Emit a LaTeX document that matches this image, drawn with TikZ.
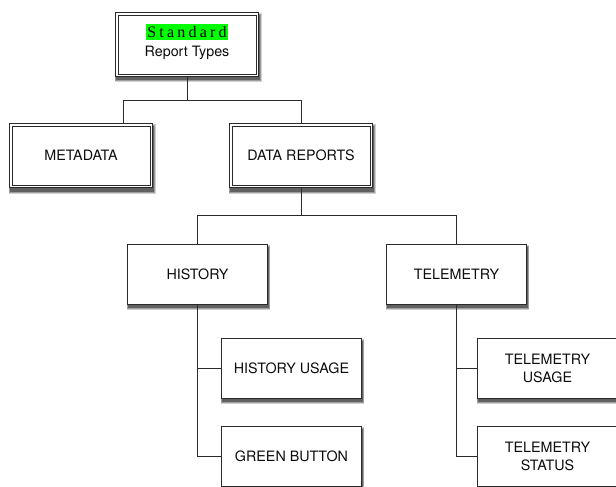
\documentclass[tikz,border=0pt]{standalone}
\usepackage{fontspec}
\setmainfont{TeX Gyre Heros}
\newfontfamily\spacedserif[LetterSpace=20]{Liberation Serif}
\usetikzlibrary{backgrounds}
\definecolor{edge}{HTML}{2A2A2A}
\definecolor{ink}{HTML}{0C0C0C}
\definecolor{hilite}{HTML}{00FF00}
\tikzset{
  box/.style={draw=edge, fill=white, line width=0.9pt,
    minimum width=140pt, minimum height=60pt, inner sep=2pt,
    align=center, text=ink, font=\fontsize{14.3}{18.5}\selectfont},
  dbox/.style={box, line width=1pt, minimum width=143pt, minimum height=64pt},
  wire/.style={draw=edge, line width=0.8pt},
  innerline/.style={draw=edge, line width=0.7pt},
  shadowA/.style={fill=black!18},
  shadowB/.style={fill=black!38},
  shadowC/.style={fill=black!62},
}
\begin{document}
\begin{tikzpicture}[x=1pt, y=-1pt]
  \useasboundingbox (0,0) rectangle (616,487);

  % top level
  \node[dbox] (std) at (187,44.5) {};
  \node[fill=hilite, inner xsep=1pt, inner ysep=2.5pt, text=black,
        font=\spacedserif\fontsize{16}{18}\selectfont] (stdtitle) at (187,31.8) {Standard};
  \node[text=ink, font=\fontsize{14.3}{16}\selectfont] (stdsub) at (187,53) {Report Types};

  % second level
  \node[dbox] (meta) at (81,155.5) {METADATA};
  \node[dbox] (dr) at (301,155.5) {DATA REPORTS};

  % third level
  \node[box] (hist) at (197.5,274.5) {HISTORY};
  \node[box] (tel) at (456.5,274.5) {TELEMETRY};

  % leaves
  \node[box] (hu) at (291.5,368.5) {HISTORY USAGE};
  \node[box] (gb) at (291.5,456.5) {GREEN BUTTON};
  \node[box] (tu) at (547.5,368.5) {TELEMETRY\\USAGE};
  \node[box] (ts) at (547.5,456.5) {TELEMETRY\\STATUS};

  % inner rule of the framed boxes
  \foreach \n in {std,meta,dr}
    \draw[innerline] ([shift={(3pt,-3pt)}]\n.north west)
      rectangle ([shift={(-3pt,3pt)}]\n.south east);

  \coordinate (j1) at (187,100);
  \coordinate (mx) at (123,100);
  \coordinate (j2) at (301,215);

  \begin{pgfonlayer}{background}
    % soft drop shadows below every box, built from three graded layers
    \foreach \n in {std,meta,dr,hist,tel,hu,gb,tu,ts} {
      \fill[shadowA] ([shift={(-0.5pt,-5.5pt)}]\n.south west) rectangle ([shift={(2.5pt,-1pt)}]\n.north east);
      \fill[shadowB] ([shift={(0pt,-4.5pt)}]\n.south west) rectangle ([shift={(2pt,-2pt)}]\n.north east);
      \fill[shadowC] ([shift={(0.5pt,-3.5pt)}]\n.south west) rectangle ([shift={(1.2pt,-3pt)}]\n.north east);
    }
    \draw[wire] (std.south) -- (j1);
    \draw[wire] (meta.north -| mx) -- (mx) -- (mx -| dr.north) -- (dr.north);
    \draw[wire] (dr.south) -- (j2);
    \draw[wire] (hist.north) -- (hist.north |- j2) -- (tel.north |- j2) -- (tel.north);
    \draw[wire] (hist.south) |- (hu.west);
    \draw[wire] (hist.south) |- (gb.west);
    \draw[wire] (tel.south) |- (tu.west);
    \draw[wire] (tel.south) |- (ts.west);
  \end{pgfonlayer}
\end{tikzpicture}
\end{document}
